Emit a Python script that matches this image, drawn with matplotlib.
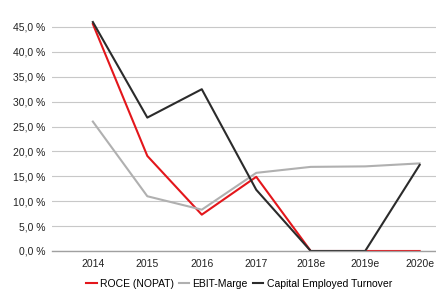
import matplotlib.pyplot as plt
from matplotlib.ticker import FuncFormatter

# ------------------------------
# Data
# ------------------------------
years = ['2014', '2015', '2016', '2017', '2018e', '2019e', '2020e']
roce = [45.6, 19.1, 7.3, 14.9, 0.0, 0.0, 0.0]
ebit_marge = [26.0, 11.0, 8.3, 15.7, 16.9, 17.0, 17.6]
cap_turnover = [46.0, 26.8, 32.5, 12.3, 0.0, 0.0, 17.3]

plt.rcParams['font.family'] = ['Liberation Sans', 'DejaVu Sans']

fig = plt.figure(figsize=(4.36, 2.89), dpi=100)
# axes: y=0 at px 251, top at px 10
ax = fig.add_axes([52 / 436, 1 - 251 / 289, (436 - 52) / 436, (251 - 10) / 289])

x = range(len(years))
ax.plot(x, roce, color='#e3161b', lw=1.5, label='ROCE (NOPAT)')
ax.plot(x, ebit_marge, color='#b0b0b0', lw=1.5, label='EBIT-Marge')
ax.plot(x, cap_turnover, color='#2b2b2b', lw=1.5, label='Capital Employed Turnover')

px_per_pct = (251 - 27) / 45
ax.set_ylim(0, 45 + 17 / px_per_pct)
ax.set_yticks([0, 5, 10, 15, 20, 25, 30, 35, 40, 45])
ax.yaxis.set_major_formatter(FuncFormatter(lambda v, p: f'{v:.1f} %'.replace('.', ',')))
ax.set_xlim(-0.75, 6.3)
ax.set_xticks(list(x))
ax.set_xticklabels(years)

ax.grid(axis='y', color='#c8c8c8', lw=0.8)
ax.set_axisbelow(True)
for s in ['top', 'right', 'left']:
    ax.spines[s].set_visible(False)
ax.spines['bottom'].set_color('#a0a0a0')
ax.spines['bottom'].set_linewidth(1.0)
ax.tick_params(length=0, labelsize=7.5, colors='#222222', pad=5)
ax.tick_params(axis='x', pad=6)

fig.legend(loc='center', bbox_to_anchor=(239 / 436, 1 - 284 / 289), ncol=3, frameon=False,
           fontsize=7.5, handlelength=1.0, handletextpad=0.3, columnspacing=0.5,
           borderpad=0, borderaxespad=0)

plt.savefig('out.png', dpi=100)
